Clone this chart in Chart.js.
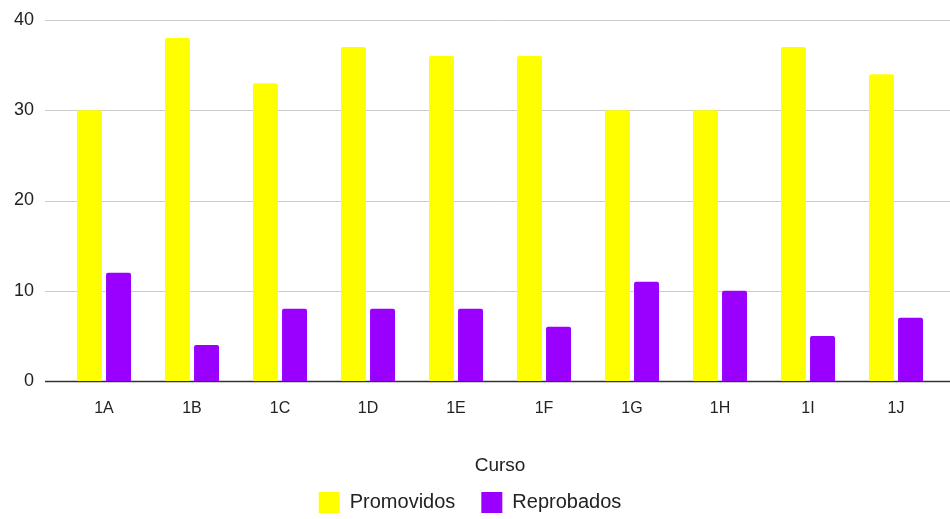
<!DOCTYPE html>
<html>
<head>
<meta charset="utf-8">
<script src="https://cdn.jsdelivr.net/npm/chart.js@4/dist/chart.umd.min.js"></script>
<style>
  html, body { margin: 0; padding: 0; background: #fff; }
  #wrap { width: 950px; height: 519px; }
</style>
</head>
<body>
<div id="wrap"><canvas id="cursoChart"></canvas></div>
<script>
const cursos = ['1A', '1B', '1C', '1D', '1E', '1F', '1G', '1H', '1I', '1J'];
const promovidos = [30, 38, 33, 37, 36, 36, 30, 30, 37, 34];
const reprobados = [12, 4, 8, 8, 8, 6, 11, 10, 5, 7];
const yTicks = [0, 10, 20, 30, 40];

// grid lines run wider than the bar area in the original
const wideGrid = {
  id: 'wideGrid',
  beforeDatasetsDraw(chart) {
    const y = chart.scales.y;
    const c = chart.ctx;
    c.save();
    yTicks.forEach(function (v) {
      const py = Math.round(y.getPixelForValue(v)) + 0.5;
      c.beginPath();
      c.strokeStyle = v === 0 ? '#333333' : '#cccccc';
      c.lineWidth = v === 0 ? 1.5 : 1;
      c.moveTo(45, py);
      c.lineTo(950, py);
      c.stroke();
    });
    c.restore();
  }
};

document.addEventListener('DOMContentLoaded', function () {
  const data = {
    labels: cursos,
    datasets: [{
      label: 'Promovidos',
      data: promovidos,
      backgroundColor: '#ffff00',
      borderRadius: { topLeft: 2, topRight: 2 },
      borderSkipped: false
    }, {
      label: 'Reprobados',
      data: reprobados,
      backgroundColor: '#9900ff',
      borderRadius: { topLeft: 2, topRight: 2 },
      borderSkipped: false
    }]
  };

  const config = {
    type: 'bar',
    data: data,
    plugins: [wideGrid],
    options: {
      responsive: true,
      maintainAspectRatio: false,
      animation: false,
      layout: { padding: { top: 20, right: 10, left: 0, bottom: -4 } },
      categoryPercentage: 0.66,
      barPercentage: 0.86,
      plugins: {
        legend: {
          position: 'bottom',
          labels: {
            boxWidth: 21,
            boxHeight: 21,
            padding: 26,
            color: '#222222',
            font: { family: 'Liberation Sans, Arial', size: 20 }
          }
        },
        tooltip: { enabled: false }
      },
      scales: {
        x: {
          grid: { display: false, drawTicks: false },
          border: { display: false },
          ticks: {
            color: '#222222',
            padding: 18,
            font: { family: 'Liberation Sans, Arial', size: 16 }
          },
          title: {
            display: true,
            text: 'Curso',
            color: '#222222',
            padding: { top: 18, bottom: -11 },
            font: { family: 'Liberation Sans, Arial', size: 19 }
          }
        },
        y: {
          min: 0,
          max: 40,
          afterBuildTicks: function (axis) {
            axis.ticks = yTicks.map(function (v) { return { value: v }; });
          },
          afterFit: function (axis) {
            axis.width = 60;
            axis.paddingTop = 0;
            axis.paddingBottom = 0;
          },
          grid: { display: false, drawTicks: false },
          border: { display: false },
          ticks: {
            color: '#222222',
            padding: 26,
            font: { family: 'Liberation Sans, Arial', size: 18 }
          }
        }
      }
    }
  };

  const ctx = document.getElementById('cursoChart').getContext('2d');
  new Chart(ctx, config);
});
</script>
</body>
</html>
